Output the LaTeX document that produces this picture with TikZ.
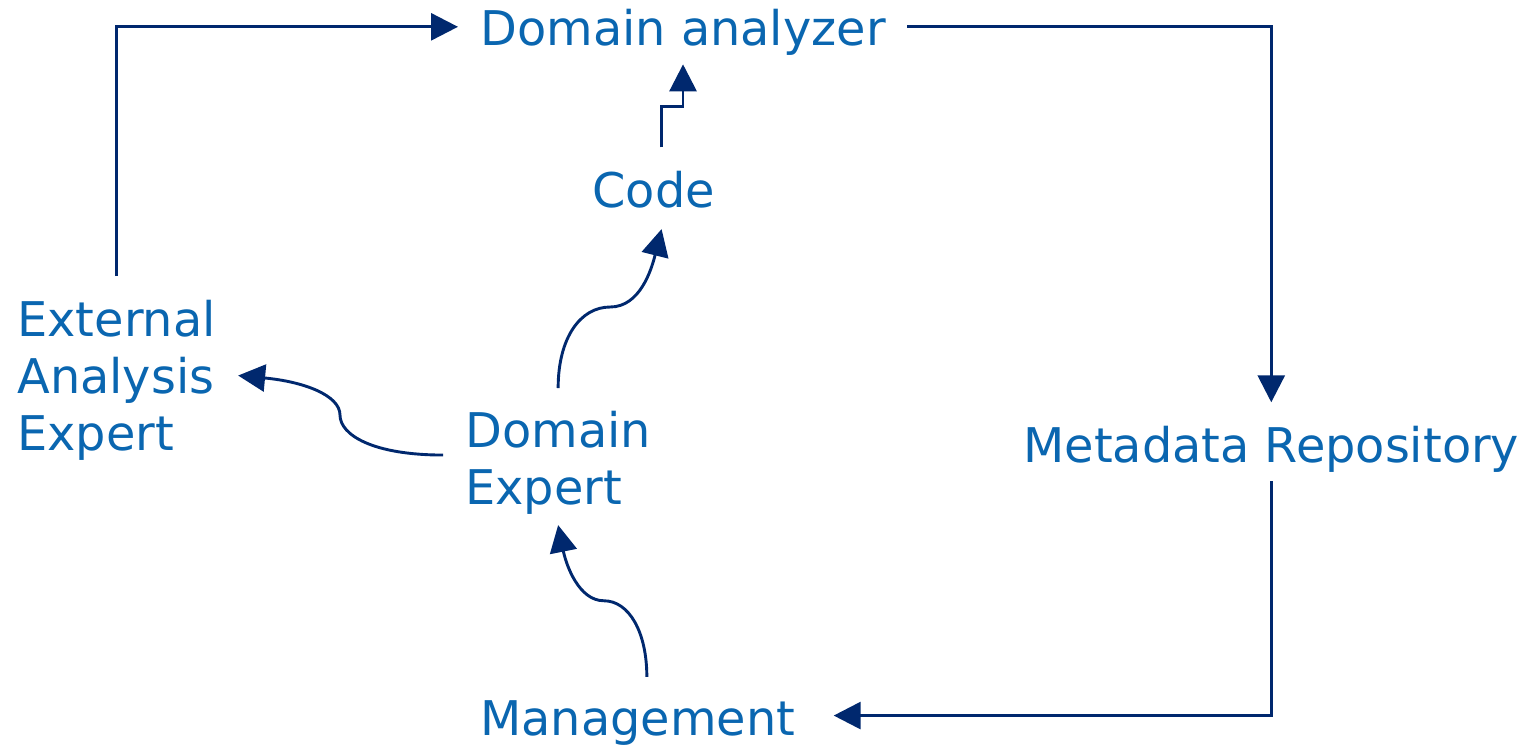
\documentclass[tikz,border=0pt]{standalone}
\usepackage{fontspec}
\setmainfont{DejaVu Sans}
\usetikzlibrary{arrows.meta}
\definecolor{labelblue}{RGB}{10,102,176}
\definecolor{linenavy}{RGB}{0,40,110}
\begin{document}
\begin{tikzpicture}[x=0.5pt,y=0.5pt,
  lbl/.style={inner sep=0pt,text=labelblue,font=\fontsize{23.9}{28.5}\selectfont,align=left},
  flow/.style={-{Triangle[length=13.5pt,width=13.5pt]},draw=linenavy,line width=1.45pt}]
  \useasboundingbox (0,0) rectangle (1530,-746);
  % labels
  \node[lbl,anchor=base west] (analyzer) at (480,-45) {Domain analyzer};
  \node[lbl,anchor=base west] (code) at (592,-207) {Code};
  \node[lbl,anchor=north west] (extexp) at (17,-300) {External\\Analysis\\Expert};
  \node[lbl,anchor=north west] (domexp) at (465,-411) {Domain\\Expert};
  \node[lbl,anchor=base west] (meta) at (1023,-462) {Metadata Repository};
  \node[lbl,anchor=base west] (mgmt) at (480,-735) {Management};
  % outer loop
  \draw[flow] ([yshift=12pt]extexp.north) |- ([xshift=-11pt,yshift=2.5pt]analyzer.west);
  \draw[flow] ([xshift=10.5pt,yshift=2.5pt]analyzer.east) -| ([yshift=11.5pt]meta.north);
  \draw[flow] ([yshift=-4.5pt]meta.south) |- ([xshift=19pt,yshift=3.5pt]mgmt.east);
  % curved links
  \draw[flow] ([xshift=4.5pt,yshift=11.5pt]mgmt.north)
    .. controls +(0,45) and +(25,0) .. ++(-43,76)
    .. controls +(-25,0) and +(8,-40) .. ([yshift=-5pt]domexp.south);
  \draw[flow] ([yshift=11.5pt]domexp.north)
    .. controls +(0,50) and +(-30,0) .. ++(52,81)
    .. controls +(30,0) and +(-10,-40) .. ([xshift=4pt,yshift=-10.5pt]code.south);
  \draw[flow] ([xshift=-11pt,yshift=4pt]domexp.west)
    .. controls +(-70,0) and +(0,-20) .. ++(-103,40)
    .. controls +(0,20) and +(65,-6) .. ([xshift=11pt,yshift=2.5pt]extexp.east);
  % step link
  \draw[flow] ([xshift=4pt,yshift=11.5pt]code.north) -- ++(0,41) -| ([yshift=-4.5pt]analyzer.south);
\end{tikzpicture}
\end{document}
